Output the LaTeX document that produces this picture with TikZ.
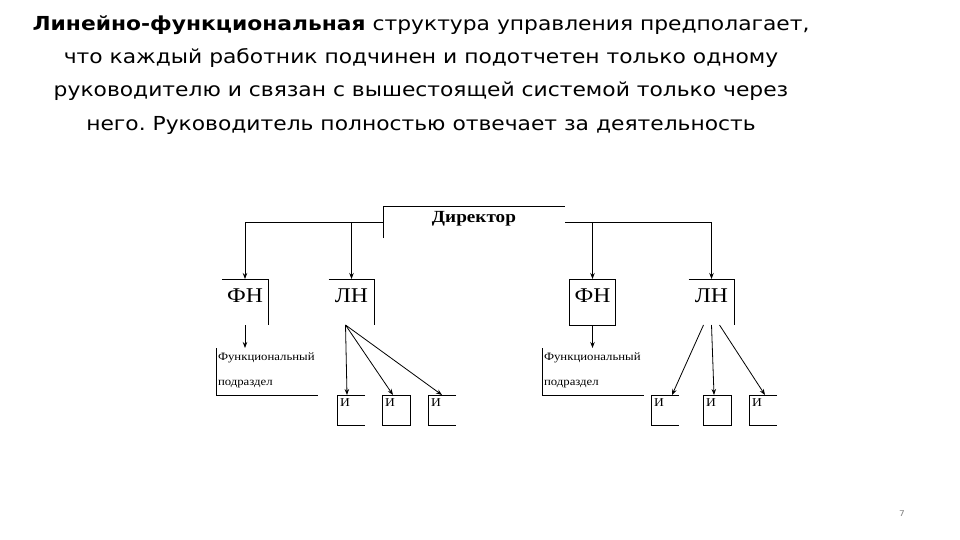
\documentclass[tikz,border=0pt]{standalone}
\usepackage{fontspec}
\setmainfont[FakeStretch=1.13]{Liberation Serif}
\newfontfamily\headfont[FakeStretch=1.13]{DejaVu Sans}
\usetikzlibrary{arrows.meta,positioning,calc}
\frenchspacing
\tikzset{
  blk/.style    ={inner sep=0pt,outer sep=0pt},
  dirbox/.style ={blk,minimum width=182pt,minimum height=32pt,text height=16pt,text depth=16pt,
                  font=\fontsize{17}{17}\selectfont\bfseries},
  chief/.style  ={blk,minimum width=46pt,minimum height=46pt,text height=23pt,text depth=23pt,
                  font=\fontsize{21}{21}\selectfont},
  unit/.style   ={blk,inner xsep=2pt,text width=98pt,align=left,text height=12pt,text depth=35pt,
                  font=\fontsize{11.3}{25}\selectfont},
  worker/.style ={blk,inner xsep=3pt,text width=22pt,align=left,text height=11pt,text depth=19pt,
                  font=\fontsize{12}{12}\selectfont},
  edge/.style   ={line width=0.9pt},
  flow/.style   ={-{Stealth[length=6pt,width=4.5pt]},line width=0.8pt},
}
\begin{document}
\begin{tikzpicture}[x=1pt,y=-1pt]
  \useasboundingbox (0,0) rectangle (960,540);
  \node[align=center,anchor=north,font=\headfont\fontsize{19.3}{33.3}\selectfont] (head) at (421,12)
    {\textbf{Линейно-функциональная} структура управления предполагает,\\
     что каждый работник подчинен и подотчетен только одному\\
     руководителю и связан с вышестоящей системой только через\\
     него. Руководитель полностью отвечает за деятельность};
  \node[dirbox] (dir) at (474,222) {Директор};
  \node[chief] (fn1) at (245,302) {ФН};
  \node[chief] (ln1) at (351.5,302) {ЛН};
  \node[chief] (fn2) at (592.5,302) {ФН};
  \node[chief] (ln2) at (711.5,302) {ЛН};
  \node[unit] (fu1) at (267,371.5) {Функциональный\\подраздел};
  \node[unit] (fu2) at (593,371.5) {Функциональный\\подраздел};
  \node[worker] (i11) at (351,410) {И};
  \node[worker] (i12) at (396,410) {И};
  \node[worker] (i13) at (442,410) {И};
  \node[worker] (i21) at (665,410) {И};
  \node[worker] (i22) at (717,410) {И};
  \node[worker] (i23) at (763,410) {И};
  \node[font=\headfont\fontsize{8}{8}\selectfont,text=gray] (page) at (902,514) {7};
  % visible box edges
  \draw[edge] (dir.south west) -- (dir.north west) -- (dir.north east);
  \foreach \b in {fn1,ln1,ln2}
    \draw[edge] (\b.north west) -- (\b.north east) -- (\b.south east);
  \draw[edge] (fn2.south west) rectangle (fn2.north east);
  \foreach \b in {fu1,fu2}
    \draw[edge] (\b.north west) -- (\b.south west) -- (\b.south east);
  \foreach \b in {i11,i13,i21,i23}
    \draw[edge] (\b.north east) -- (\b.north west) -- (\b.south west) -- (\b.south east);
  \foreach \b in {i12,i22}
    \draw[edge] (\b.south west) rectangle (\b.north east);
  % director to chiefs
  \draw[flow] (dir.west) -| (fn1.north);
  \draw[flow] (ln1.north |- dir.west) -- (ln1.north);
  \draw[flow] (dir.east) -| (ln2.north);
  \draw[flow] (fn2.north |- dir.east) -- (fn2.north);
  % chiefs to units
  \draw[flow] (fn1.south) -- (fn1.south |- fu1.north);
  \draw[flow] (fn2.south) -- (fn2.south |- fu2.north);
  \draw[flow] ([xshift=-6pt]ln1.south) -- ([xshift=-4pt]i11.north);
  \draw[flow] ([xshift=-6pt]ln1.south) -- ([xshift=-3pt]i12.north);
  \draw[flow] ([xshift=-6pt]ln1.south) -- (i13.north);
  \draw[flow] ([xshift=-8pt]ln2.south) -- ([xshift=7pt]i21.north);
  \draw[flow] (ln2.south) -- ([xshift=-3pt]i22.north);
  \draw[flow] ([xshift=8pt]ln2.south) -- ([xshift=2pt]i23.north);
\end{tikzpicture}
\end{document}
